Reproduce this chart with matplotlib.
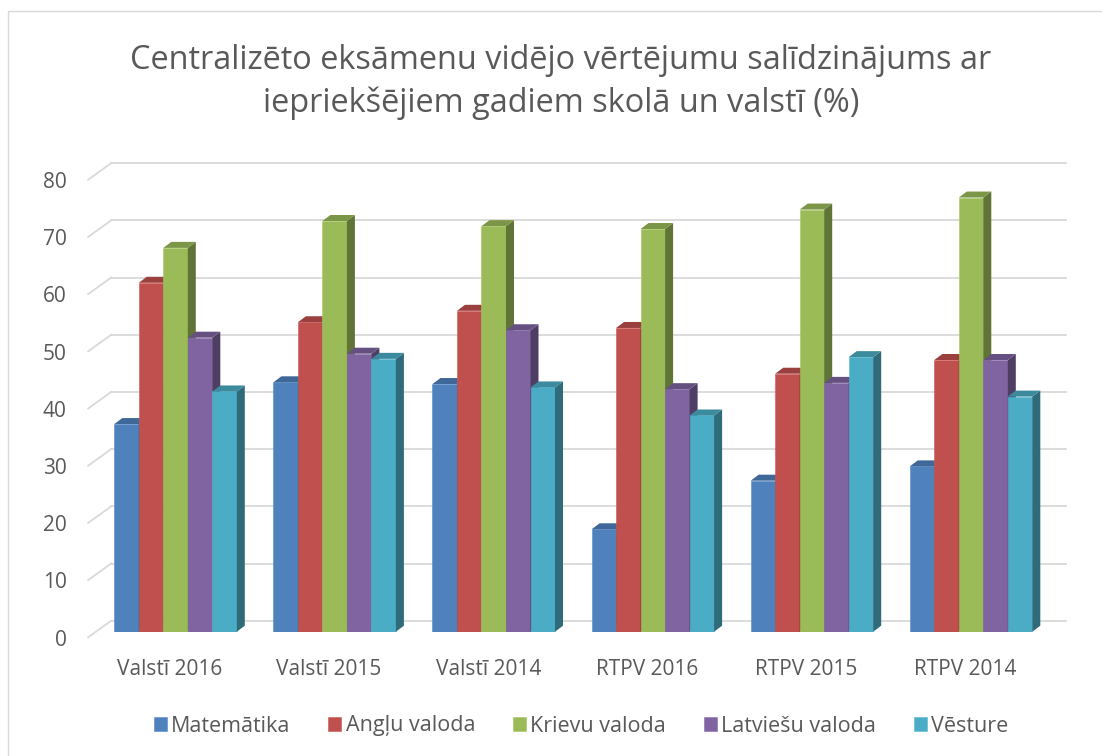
import numpy as np
import matplotlib
matplotlib.use("Agg")
import matplotlib.pyplot as plt
from matplotlib.patches import Polygon, Rectangle
from matplotlib.lines import Line2D
from matplotlib.transforms import ScaledTranslation, IdentityTransform
import matplotlib.colors as mcolors

# dati
categorie = ["Valstī 2016", "Valstī 2015", "Valstī 2014", "RTPV 2016", "RTPV 2015", "RTPV 2014"]
matematika = [36.3, 43.6, 43.3, 17.9, 26.4, 28.9]
anglu = [61.0, 54.1, 56.1, 53.1, 45.1, 47.5]
krievu = [67.1, 71.8, 70.9, 70.4, 73.8, 75.9]
latviesu = [51.4, 48.6, 52.7, 42.4, 43.5, 47.5]
vesture = [42.0, 47.7, 42.7, 37.8, 48.0, 41.1]

serie = ["Matemātika", "Angļu valoda", "Krievu valoda", "Latviešu valoda", "Vēsture"]
valori = [matematika, anglu, krievu, latviesu, vesture]
colori = ["#4F81BD", "#C0504D", "#9BBB59", "#8064A2", "#4BACC6"]
y_ticks = [0, 10, 20, 30, 40, 50, 60, 70, 80]

plt.rcParams["font.family"] = ["Open Sans", "DejaVu Sans"]
grigio_testo = "#595959"
grigio_linee = "#D9D9D9"

W, H = 1102, 756
fig = plt.figure(figsize=(W / 100, H / 100), dpi=100)

# piano frontale delle barre (in pixel)
ax_l, ax_r, ax_b, ax_t = 96, 1050.6, 631.7, 174.1
ax = fig.add_axes([ax_l / W, 1 - ax_b / H, (ax_r - ax_l) / W, (ax_b - ax_t) / H])
ax.set_xlim(-0.5, 5.5)
ax.set_ylim(0, 80)
for s in ax.spines.values():
    s.set_visible(False)
ax.patch.set_visible(False)

# bordo della figura
fig.patches.append(Rectangle((8 / W, -0.1), 1.2, 1 - 11 / H + 0.1, transform=fig.transFigure,
                             fill=False, edgecolor=grigio_linee, linewidth=1.0))

# parete di fondo: griglia e diagonali
back_dx, back_dy = 15.2, 11.0
front_dx, front_dy = -7.8, -5.6
for v in y_ticks:
    _, yv = ax.transData.transform((0, v))
    ax.add_line(Line2D([ax_l + back_dx, ax_r + back_dx], [yv + back_dy, yv + back_dy],
                       transform=IdentityTransform(), color=grigio_linee, lw=1.3,
                       zorder=0.5, clip_on=False))
    x0 = ax.transAxes.transform((0, 0))[0]
    ax.add_line(Line2D([x0 + front_dx, x0 + back_dx], [yv + front_dy, yv + back_dy],
                       transform=IdentityTransform(), color=grigio_linee, lw=1.3,
                       zorder=0.5, clip_on=False))

# barre pseudo-3D
x = np.arange(len(categorie))
n = len(serie)
gruppo = 0.77
w = gruppo / n
prof_dx, prof_dy = 8.0, 6.0


def scurisci(c, f):
    r, g, b = mcolors.to_rgb(c)
    return (r * f, g * f, b * f)


for j, (nome, vals, col) in enumerate(zip(serie, valori, colori)):
    xs = x - gruppo / 2 + j * w
    ax.bar(xs, vals, width=w, align="edge", color=col, edgecolor=mcolors.to_hex(
        [min(1, c * 1.08) for c in mcolors.to_rgb(col)]), linewidth=0.4,
        label=nome, zorder=3 + j)
    for xi, v in zip(xs, vals):
        x1, y0 = ax.transData.transform((xi, 0))
        x2, y1 = ax.transData.transform((xi + w, v))
        lato = Polygon([(x2, y0), (x2 + prof_dx, y0 + prof_dy), (x2 + prof_dx, y1 + prof_dy), (x2, y1)],
                       closed=True, transform=IdentityTransform(), facecolor=scurisci(col, 0.62),
                       edgecolor="none", zorder=3 + j, clip_on=False)
        sopra = Polygon([(x1, y1), (x2, y1), (x2 + prof_dx, y1 + prof_dy), (x1 + prof_dx, y1 + prof_dy)],
                        closed=True, transform=IdentityTransform(), facecolor=scurisci(col, 0.8),
                        edgecolor="none", zorder=3 + j, clip_on=False)
        ax.add_patch(lato)
        ax.add_patch(sopra)

# assi
ax.set_yticks(y_ticks)
ax.tick_params(axis="y", length=0, pad=21, labelsize=15, labelcolor=grigio_testo)
for lab in ax.get_yticklabels():
    lab.set_transform(lab.get_transform() + ScaledTranslation(0, -0.06, fig.dpi_scale_trans))
ax.set_xticks(x)
ax.set_xticklabels(categorie)
ax.tick_params(axis="x", length=0, pad=20, labelsize=15, labelcolor=grigio_testo)
for lab in ax.get_xticklabels():
    lab.set_transform(lab.get_transform() + ScaledTranslation(-0.055, 0, fig.dpi_scale_trans))

# titolo
fig.text(561 / W, 1 - 82 / H, "Centralizēto eksāmenu vidējo vērtējumu salīdzinājums ar\niepriekšējiem gadiem skolā un valstī (%)",
         ha="center", va="center", fontsize=23.4, color=grigio_testo, linespacing=1.36)

# legenda
ax.legend(loc="center", bbox_to_anchor=(581 / W, 1 - 726 / H), bbox_transform=fig.transFigure,
          ncol=5, frameon=False, fontsize=15.5, labelcolor=grigio_testo,
          handlelength=0.6, handleheight=0.6, handletextpad=0.2, columnspacing=1.76)

fig.savefig("out.png", dpi=100)
